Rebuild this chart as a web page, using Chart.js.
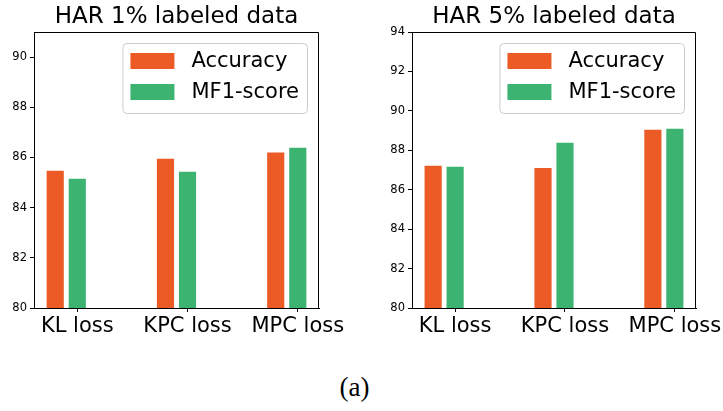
<!DOCTYPE html>
<html>
<head>
<meta charset="utf-8">
<script src="https://cdn.jsdelivr.net/npm/chart.js@4.4.0/dist/chart.umd.min.js"></script>
<style>
  body { margin: 0; width: 723px; height: 411px; background: #fff; position: relative; overflow: hidden; }
  .panel { position: absolute; top: 0; height: 345px; }
  #left { left: 0; width: 360px; }
  #right { left: 360px; width: 363px; }
  #caption { position: absolute; left: 0; width: 709px; top: 372px; text-align: center;
             font-family: "Liberation Serif", serif; font-size: 27px; color: #000; }
</style>
</head>
<body>
<div class="panel" id="left"><canvas id="chart1" width="360" height="345"></canvas></div>
<div class="panel" id="right"><canvas id="chart2" width="363" height="345"></canvas></div>
<div id="caption">(a)</div>
<script>
  // data
  const categories = ["KL loss", "KPC loss", "MPC loss"];
  const seriesNames = ["Accuracy", "MF1-score"];
  const har1Accuracy = [85.46, 85.94, 86.18];
  const har1Mf1 = [85.14, 85.42, 86.37];
  const har5Accuracy = [87.20, 87.09, 89.03];
  const har5Mf1 = [87.15, 88.37, 89.08];
  const har1YTicks = [80, 82, 84, 86, 88, 90];
  const har5YTicks = [80, 82, 84, 86, 88, 90, 92, 94];
  const seriesColors = ["#EC5B26", "#3CB371"];

  const FONT = "DejaVu Sans";

  // top/right spines + matplotlib style legend box
  const framePlugin = {
    id: "frameLegend",
    afterDraw(chart) {
      const { ctx, chartArea: a } = chart;
      ctx.save();
      ctx.strokeStyle = "#000";
      ctx.lineWidth = 1;
      ctx.beginPath();
      ctx.moveTo(Math.round(a.left) + 0.5, Math.round(a.top) + 0.5);
      ctx.lineTo(Math.round(a.right) - 0.5, Math.round(a.top) + 0.5);
      ctx.lineTo(Math.round(a.right) - 0.5, Math.round(a.bottom));
      ctx.stroke();

      // legend
      ctx.font = "21px " + FONT;
      const textW = Math.max(...seriesNames.map(s => ctx.measureText(s).width));
      const w = 8 + 44 + 17 + textW + 8;
      const h = 70;
      const x = a.right - 12 - w;
      const y = a.top + 11;
      ctx.beginPath();
      ctx.roundRect(x + 0.5, y + 0.5, w, h, 4);
      ctx.fillStyle = "rgba(255,255,255,0.8)";
      ctx.fill();
      ctx.strokeStyle = "#cccccc";
      ctx.stroke();
      ctx.textBaseline = "middle";
      seriesNames.forEach((name, i) => {
        const cy = y + 18 + i * 31;
        ctx.fillStyle = seriesColors[i];
        ctx.fillRect(x + 8, cy - 8, 44, 16);
        ctx.fillStyle = "#000";
        ctx.fillText(name, x + 8 + 44 + 17, cy + 1);
      });
      ctx.restore();
    }
  };

  function makeChart(id, title, acc, mf1, yTicks, yMax, yAxisWidth, padRight) {
    const ctx = document.getElementById(id).getContext("2d");
    return new Chart(ctx, {
      type: "bar",
      data: {
        datasets: [
          { label: seriesNames[0], data: acc.map((v, i) => ({ x: i - 0.2, y: v })), backgroundColor: seriesColors[0] },
          { label: seriesNames[1], data: mf1.map((v, i) => ({ x: i, y: v })), backgroundColor: seriesColors[1] }
        ]
      },
      options: {
        responsive: false,
        animation: false,
        layout: { padding: { left: 0, right: padRight, top: 0, bottom: 0 } },
        datasets: { bar: { grouped: false, barThickness: 16.5 } },
        plugins: {
          legend: { display: false },
          tooltip: { enabled: false },
          title: {
            display: true, text: title, fullSize: false, color: "#000",
            font: { family: FONT, size: 23, weight: "normal" },
            padding: { top: 3, bottom: 1.4 }
          }
        },
        scales: {
          x: {
            type: "linear", min: -0.3925, max: 2.1925, offset: false,
            grid: { drawOnChartArea: false, drawTicks: true, tickLength: 4, color: "#000", offset: false },
            border: { display: true, color: "#000", width: 1 },
            ticks: {
              color: "#000", font: { family: FONT, size: 21 }, padding: 2,
              maxRotation: 0, autoSkip: false,
              callback: v => categories[v] ?? ""
            },
            afterBuildTicks: s => { s.ticks = categories.map((c, i) => ({ value: i })); },
            afterFit: s => { s.height = 37; s.paddingLeft = 0; s.paddingRight = 0; }
          },
          y: {
            min: 80, max: yMax,
            grid: { drawOnChartArea: false, drawTicks: true, tickLength: 4, color: "#000" },
            border: { display: true, color: "#000", width: 1 },
            ticks: { color: "#000", font: { family: FONT, size: 11.5 }, padding: 3 },
            afterBuildTicks: s => { s.ticks = yTicks.map(v => ({ value: v })); },
            afterFit: s => { s.width = yAxisWidth; s.paddingTop = 0; s.paddingBottom = 0; }
          }
        }
      },
      plugins: [framePlugin]
    });
  }

  makeChart("chart1", "HAR 1% labeled data", har1Accuracy, har1Mf1, har1YTicks, 91, 34, 41);
  makeChart("chart2", "HAR 5% labeled data", har5Accuracy, har5Mf1, har5YTicks, 94, 52, 27);
</script>
</body>
</html>
